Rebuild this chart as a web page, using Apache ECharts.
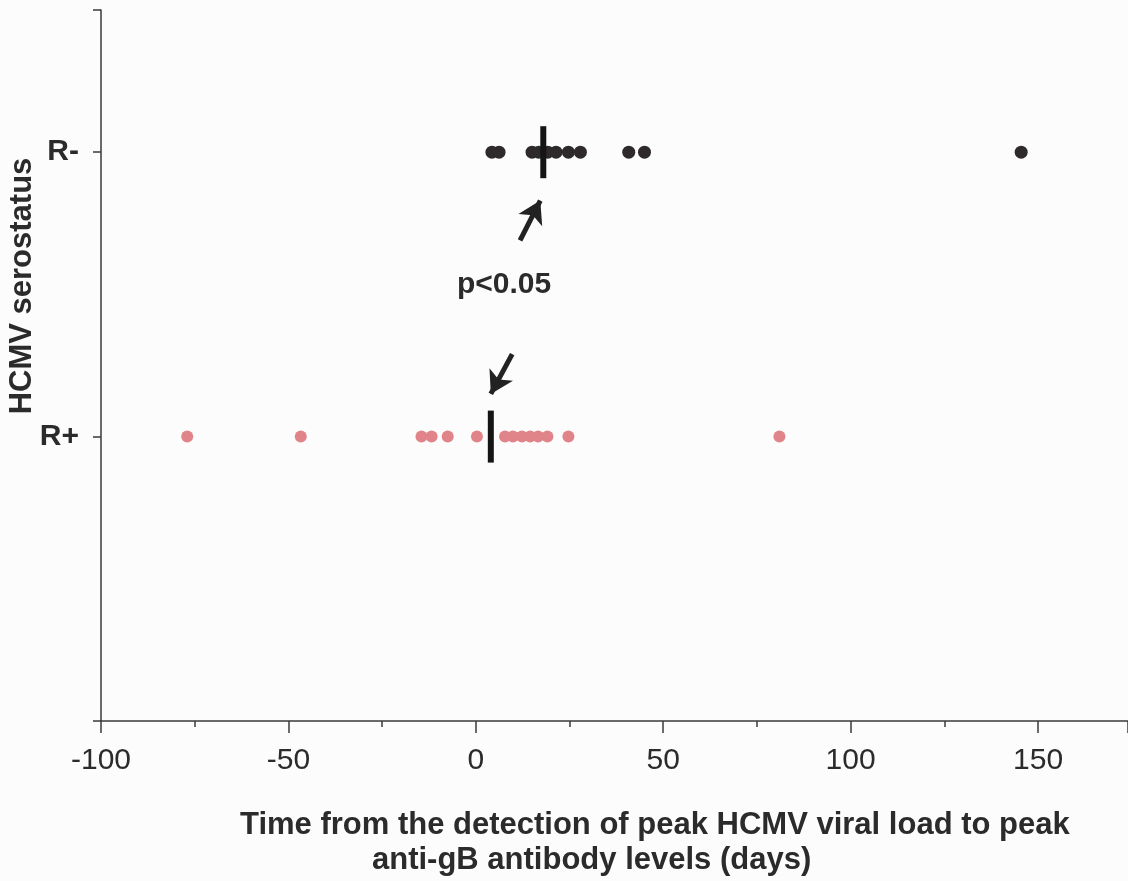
<!DOCTYPE html>
<html>
<head>
<meta charset="utf-8">
<script src="https://cdn.jsdelivr.net/npm/echarts@6/dist/echarts.min.js"></script>
<style>
html,body{margin:0;padding:0;background:#fcfcfc;}
#chart{width:1128px;height:881px;}
</style>
</head>
<body>
<div id="chart"></div>
<script>
// Categories (y positions) and labels
const groupLabels = {1: 'R+', 2: 'R-'};
const groupRneg = 2;
const groupRpos = 1;
// Time from peak viral load to peak anti-gB antibody levels (days)
const rNegDays = [4.3, 6.2, 15.0, 16.8, 19.2, 21.4, 24.7, 27.9, 40.8, 45.0, 145.5];
const rPosDays = [-77.0, -46.7, -14.5, -11.8, -7.5, 0.3, 7.8, 9.9, 12.3, 14.5, 16.6, 19.1, 24.7, 81.0];
// Medians
const rNegMedian = 18.0;
const rPosMedian = 4.0;
// Annotation
const pText = 'p<0.05';
// Arrow annotations in data coordinates [x, y]
const arrowUp = [[11.8, 1.69], [17.2, 1.83]];
const arrowDown = [[9.7, 1.29], [4.0, 1.15]];
// Axis ticks
const xMin = -100, xMax = 174, xInterval = 50;
const yMin = 0, yMax = 2.5, yInterval = 1;
const xTitleLine1 = 'Time from the detection of peak HCMV viral load to peak';
const xTitleLine2 = 'anti-gB antibody levels (days)';
const yTitle = 'HCMV serostatus';

const chart = echarts.init(document.getElementById('chart'));
const textColor = '#2b2b2b';
const axisColor = '#3a3a3a';
const fam = '"Liberation Sans", Arial, sans-serif';

const option = {
  backgroundColor: '#fcfcfc',
  animation: false,
  grid: {left: 101, right: 0, top: 10, bottom: 160, containLabel: false, outerBoundsMode: 'none'},
  xAxis: {
    type: 'value', min: xMin, max: xMax, interval: xInterval,
    splitLine: {show: false},
    axisLine: {show: true, onZero: false, lineStyle: {color: axisColor, width: 1.5}},
    axisTick: {show: true, length: 12, lineStyle: {color: axisColor, width: 1.5}},
    minorTick: {show: true, splitNumber: 2, length: 6, lineStyle: {color: axisColor, width: 1.5}},
    axisLabel: {
      color: textColor, fontSize: 30, fontFamily: fam,
      margin: 25, showMaxLabel: false,
      formatter: v => (v === xMax ? '' : String(v))
    }
  },
  yAxis: {
    type: 'value', min: yMin, max: yMax, interval: yInterval,
    splitLine: {show: false},
    axisLine: {show: true, onZero: false, lineStyle: {color: axisColor, width: 1.5}},
    axisTick: {show: true, length: 8, lineStyle: {color: axisColor, width: 1.5}},
    axisLabel: {
      color: textColor, fontSize: 30, fontWeight: 'bold', fontFamily: fam,
      margin: 22,
      formatter: v => groupLabels[v] || ''
    }
  },
  series: [
    {
      name: 'R-', type: 'scatter', symbolSize: 13,
      itemStyle: {color: '#2e2a2c', opacity: 1},
      data: rNegDays.map(d => [d, groupRneg]),
      z: 3
    },
    {
      name: 'R+', type: 'scatter', symbolSize: 12,
      itemStyle: {color: '#e0848a', opacity: 1},
      data: rPosDays.map(d => [d, groupRpos]),
      z: 3,
      markLine: {
        silent: true,
        symbol: ['none', 'arrow'],
        symbolSize: [20, 22],
        label: {show: false},
        lineStyle: {color: '#222', width: 5, type: 'solid'},
        data: [
          [{coord: arrowUp[0]}, {coord: arrowUp[1]}],
          [{coord: arrowDown[0]}, {coord: arrowDown[1]}]
        ]
      }
    },
    {
      name: 'median', type: 'scatter', symbol: 'rect', symbolSize: [6, 52],
      itemStyle: {color: '#151515', opacity: 1},
      data: [[rNegMedian, groupRneg], [rPosMedian, groupRpos]],
      z: 4
    }
  ],
  graphic: [
    {type: 'text', left: 457, top: 270,
     style: {text: pText, fill: textColor, font: 'bold 30px ' + fam}},
    {type: 'text', x: 22, y: 286, rotation: Math.PI / 2,
     style: {text: yTitle, fill: textColor, align: 'center', verticalAlign: 'middle', font: 'bold 31px ' + fam}},
    {type: 'text', left: 240, top: 810,
     style: {text: xTitleLine1, fill: textColor, font: 'bold 31px ' + fam}},
    {type: 'text', left: 372, top: 845,
     style: {text: xTitleLine2, fill: textColor, font: 'bold 31px ' + fam}}
  ]
};
chart.setOption(option);
</script>
</body>
</html>
